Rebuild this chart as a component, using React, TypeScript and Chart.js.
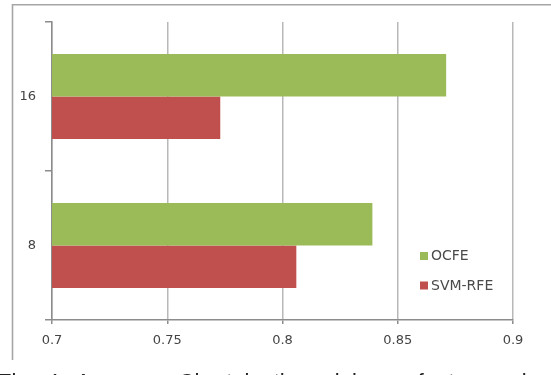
import React, { useEffect, useRef } from "react";
import { Chart, registerables } from "chart.js";

Chart.register(...registerables);

const categories = ["16", "8"];
const ocfeValues = [0.871, 0.839];
const svmRfeValues = [0.773, 0.806];
const xTickValues = [0.7, 0.75, 0.8, 0.85, 0.9];
const seriesNames = ["OCFE", "SVM-RFE"];
const seriesColors = ["#9bbb59", "#c0504d"];
const captionText = "Fig. 4. Accuracy Chart in the minimum feature subset size";

const framePlugin = {
  id: "frame",
  beforeDraw(chart: any) {
    const ctx = chart.ctx;
    ctx.save();
    ctx.fillStyle = "#ffffff";
    ctx.fillRect(0, 0, chart.width, chart.height);
    ctx.strokeStyle = "#a6a6a6";
    ctx.lineWidth = 1.6;
    ctx.beginPath();
    ctx.moveTo(12.5, 360);
    ctx.lineTo(12.5, 4.7);
    ctx.lineTo(chart.width, 4.7);
    ctx.stroke();
    ctx.restore();
  },
};

const legendPlugin = {
  id: "insideLegend",
  afterDraw(chart: any) {
    const ctx = chart.ctx;
    ctx.save();
    ctx.font = "14px 'DejaVu Sans'";
    ctx.textBaseline = "middle";
    ctx.textAlign = "left";
    const ys = [256, 285.5];
    chart.data.datasets.forEach((ds: any, i: number) => {
      ctx.fillStyle = ds.backgroundColor;
      ctx.fillRect(420, ys[i] - 4, 8, 8);
      ctx.fillStyle = "#4a4a4a";
      ctx.fillText(ds.label, 431, ys[i] + 0.5);
    });
    ctx.restore();
  },
};

export default function App() {
  const ref = useRef<HTMLCanvasElement | null>(null);

  useEffect(() => {
    if (!ref.current) return;
    const chart = new Chart(ref.current, {
      type: "bar",
      data: {
        labels: categories,
        datasets: [
          {
            label: seriesNames[0],
            data: ocfeValues,
            backgroundColor: seriesColors[0],
            categoryPercentage: 0.569,
            barPercentage: 1.0,
          },
          {
            label: seriesNames[1],
            data: svmRfeValues,
            backgroundColor: seriesColors[1],
            categoryPercentage: 0.569,
            barPercentage: 1.0,
          },
        ],
      },
      options: {
        indexAxis: "y",
        animation: false,
        responsive: false,
        maintainAspectRatio: false,
        devicePixelRatio: 1,
        layout: { padding: { left: 0, right: 38, top: 22, bottom: 0 } },
        plugins: {
          legend: { display: false },
          tooltip: { enabled: false },
        },
        scales: {
          x: {
            type: "linear",
            min: 0.7,
            max: 0.9,
            afterBuildTicks: (scale: any) => {
              scale.ticks = xTickValues.map((v) => ({ value: v }));
            },
            afterFit: (scale: any) => {
              scale.height = 55;
            },
            grid: {
              color: "#b8b8b8",
              lineWidth: 1.5,
              tickLength: 4,
              tickColor: "#8c8c8c",
            },
            border: { display: true, color: "#8c8c8c", width: 1.5 },
            ticks: {
              padding: 9,
              color: "#444444",
              font: { family: "'DejaVu Sans'", size: 13 },
              callback: (v: any) => String(Number(Number(v).toFixed(2))),
            },
          },
          y: {
            type: "category",
            offset: true,
            afterFit: (scale: any) => {
              scale.width = 52;
            },
            grid: {
              offset: true,
              drawOnChartArea: false,
              tickLength: 7,
              color: "#8c8c8c",
              lineWidth: 1.5,
            },
            border: { display: true, color: "#8c8c8c", width: 1.5 },
            ticks: {
              padding: 9,
              color: "#444444",
              font: { family: "'DejaVu Sans'", size: 13 },
            },
          },
        },
      },
      plugins: [framePlugin, legendPlugin],
    });
    return () => chart.destroy();
  }, []);

  return (
    <div
      style={{
        position: "fixed",
        left: 0,
        top: 0,
        width: 551,
        height: 375,
        overflow: "hidden",
        background: "#ffffff",
      }}
    >
      <canvas ref={ref} width={551} height={375} style={{ display: "block" }} />
      <div
        style={{
          position: "absolute",
          left: -2,
          top: 371,
          whiteSpace: "nowrap",
          fontFamily: "'Liberation Sans', sans-serif",
          fontSize: 22,
          lineHeight: 1,
          color: "#222222",
          wordSpacing: 6,
        }}
      >
        {captionText}
      </div>
    </div>
  );
}
